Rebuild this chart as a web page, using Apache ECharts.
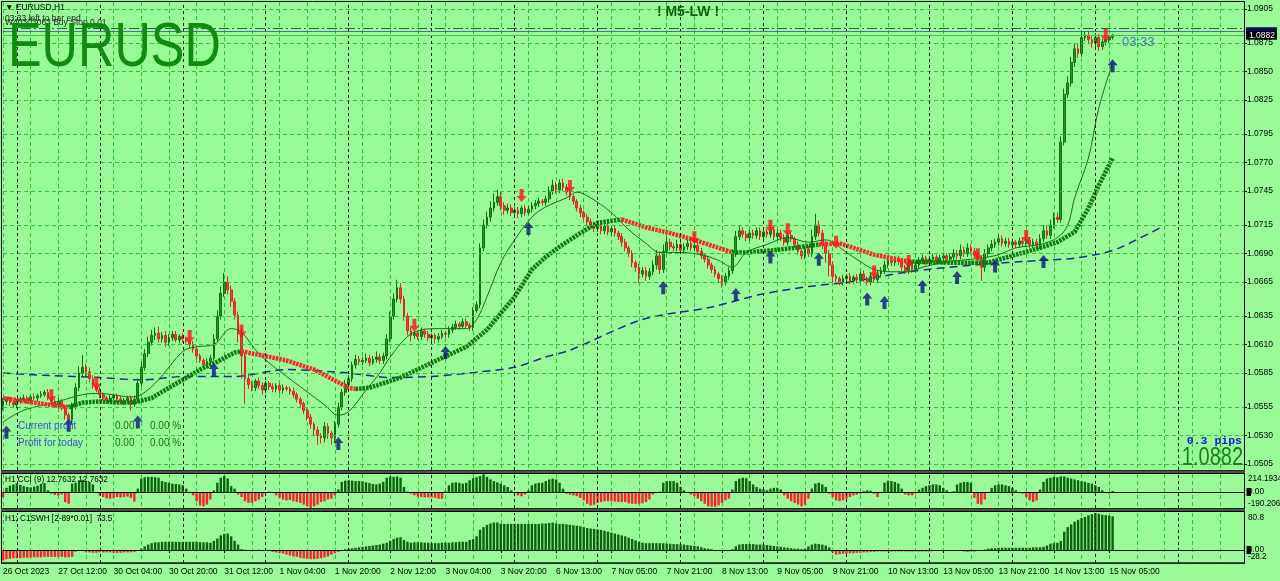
<!DOCTYPE html>
<html><head><meta charset="utf-8">
<script src="https://cdn.jsdelivr.net/npm/echarts@6/dist/echarts.min.js"></script>
<style>html,body{margin:0;padding:0;background:#98fb98;overflow:hidden}#c{width:1280px;height:581px}</style>
</head><body><div id="c"></div>
<script>
// ---------------- DATA ----------------
const timeLabels = ['26 Oct 2023','27 Oct 12:00','30 Oct 04:00','30 Oct 20:00','31 Oct 12:00','1 Nov 04:00','1 Nov 20:00','2 Nov 12:00','3 Nov 04:00','3 Nov 20:00','6 Nov 13:00','7 Nov 05:00','7 Nov 21:00','8 Nov 13:00','9 Nov 05:00','9 Nov 21:00','10 Nov 13:00','13 Nov 05:00','13 Nov 21:00','14 Nov 13:00','15 Nov 05:00'];
const priceTicks = [1.0905,1.0875,1.0850,1.0825,1.0795,1.0770,1.0745,1.0715,1.0690,1.0665,1.0635,1.0610,1.0585,1.0555,1.0530,1.0505];
const daySeparators = [4,28,52,76,100,124,148,172,196,220,244,268,292,316,340];
const firstOpen = 1.0556;
const closes = [
1.0560,1.0562,1.0559,1.0557,1.0560,1.0562,1.0563,1.0561,1.0564,1.0563,
1.0565,1.0566,1.0568,1.0563,1.0560,1.0557,1.0560,1.0555,1.0548,1.0544,
1.0556,1.0572,1.0585,1.0590,1.0586,1.0580,1.0574,1.0570,1.0566,1.0563,
1.0561,1.0563,1.0565,1.0562,1.0560,1.0561,1.0563,1.0558,1.0562,1.0576,
1.0590,1.0602,1.0612,1.0618,1.0620,1.0615,1.0618,1.0612,1.0616,1.0619,
1.0614,1.0617,1.0615,1.0613,1.0610,1.0606,1.0600,1.0596,1.0592,1.0595,
1.0598,1.0615,1.0635,1.0655,1.0665,1.0658,1.0648,1.0636,1.0620,1.0600,
1.0580,1.0575,1.0572,1.0578,1.0574,1.0570,1.0576,1.0573,1.0571,1.0574,
1.0570,1.0572,1.0571,1.0569,1.0566,1.0562,1.0558,1.0552,1.0546,1.0540,
1.0535,1.0530,1.0528,1.0538,1.0532,1.0528,1.0540,1.0555,1.0568,1.0575,
1.0580,1.0592,1.0597,1.0595,1.0596,1.0598,1.0594,1.0597,1.0599,1.0596,
1.0600,1.0615,1.0635,1.0650,1.0660,1.0650,1.0635,1.0622,1.0618,1.0620,
1.0617,1.0622,1.0619,1.0616,1.0618,1.0615,1.0617,1.0620,1.0619,1.0623,
1.0625,1.0628,1.0626,1.0630,1.0627,1.0625,1.0640,1.0645,1.0695,1.0715,
1.0722,1.0730,1.0735,1.0740,1.0732,1.0728,1.0730,1.0726,1.0728,1.0725,
1.0730,1.0726,1.0729,1.0732,1.0734,1.0736,1.0735,1.0738,1.0745,1.0750,
1.0746,1.0752,1.0748,1.0744,1.0740,1.0736,1.0730,1.0726,1.0722,1.0718,
1.0715,1.0712,1.0716,1.0710,1.0714,1.0709,1.0712,1.0708,1.0705,1.0700,
1.0695,1.0690,1.0682,1.0678,1.0672,1.0675,1.0670,1.0674,1.0680,1.0688,
1.0676,1.0692,1.0700,1.0696,1.0695,1.0698,1.0693,1.0696,1.0699,1.0695,
1.0697,1.0692,1.0688,1.0685,1.0680,1.0676,1.0672,1.0668,1.0665,1.0670,
1.0675,1.0690,1.0705,1.0710,1.0707,1.0704,1.0708,1.0706,1.0710,1.0705,
1.0709,1.0707,1.0711,1.0705,1.0708,1.0704,1.0700,1.0706,1.0703,1.0698,
1.0692,1.0688,1.0694,1.0690,1.0705,1.0715,1.0708,1.0698,1.0690,1.0680,
1.0670,1.0668,1.0665,1.0668,1.0670,1.0666,1.0669,1.0667,1.0672,1.0668,
1.0665,1.0670,1.0667,1.0672,1.0675,1.0680,1.0684,1.0682,1.0685,1.0683,
1.0678,1.0675,1.0682,1.0676,1.0680,1.0684,1.0686,1.0683,1.0685,1.0687,
1.0684,1.0686,1.0688,1.0685,1.0687,1.0690,1.0688,1.0693,1.0690,1.0695,
1.0692,1.0689,1.0685,1.0678,1.0690,1.0695,1.0698,1.0700,1.0703,1.0699,
1.0701,1.0698,1.0700,1.0698,1.0701,1.0699,1.0702,1.0698,1.0700,1.0697,
1.0703,1.0710,1.0706,1.0715,1.0722,1.0720,1.0788,1.0830,1.0840,1.0858,
1.0870,1.0866,1.0880,1.0882,1.0878,1.0875,1.0880,1.0872,1.0876,1.0878,
1.0880,1.0882];
// wick extensions in pips above max(open,close) / below min(open,close)
const wickHi = [
3,2,2,3,2,2,3,2,2,3, 2,3,2,3,2,2,3,2,2,2, 3,4,6,11,3,4,3,2,3,2, 2,3,2,2,3,2,2,2,3,4,
5,4,5,5,5,6,3,4,3,3, 3,2,3,2,2,3,2,2,2,3, 3,4,5,6,8,5,4,3,3,4, 3,4,3,2,3,3,2,2,3,2,
2,3,2,2,3,2,2,2,2,3, 2,3,2,4,3,2,3,4,3,4, 3,3,4,3,3,4,3,3,5,3, 3,4,4,5,7,4,3,3,3,2,
2,3,2,3,2,2,3,3,2,3, 3,3,2,3,3,2,3,3,4,5, 5,6,8,6,4,3,4,3,3,3, 2,3,3,3,3,3,2,3,4,5,
3,3,4,3,3,2,2,3,2,3, 3,3,2,3,2,3,2,3,2,3, 3,2,3,2,3,3,3,3,4,5, 4,6,5,3,3,4,3,3,3,3,
3,3,3,2,3,2,3,2,3,3, 3,4,5,4,3,3,3,3,3,3, 3,3,3,3,3,3,3,3,3,2, 3,2,3,3,6,10,4,3,3,3,
3,2,2,3,2,3,2,3,2,3, 2,3,2,3,3,4,3,3,3,3, 3,2,3,2,3,3,3,2,3,3, 2,3,3,2,3,4,3,5,3,4,
3,3,3,3,4,3,4,3,4,3, 3,3,3,2,3,3,3,2,3,3, 4,5,4,5,4,4,5,5,6,5, 5,4,5,3,4,3,4,3,3,3,
2,1];
const wickLo = [
4,3,3,2,3,2,2,3,2,2, 3,2,2,2,3,2,3,3,4,9, 4,3,3,3,4,3,3,2,3,2, 3,2,2,3,2,3,2,6,3,3,
3,3,3,3,4,3,3,4,3,3, 2,3,3,2,3,3,3,2,3,2, 3,2,3,3,3,4,5,4,8,20, 22,4,3,3,3,4,3,3,3,3,
3,3,2,3,3,3,4,3,3,4, 5,8,5,4,5,6,4,3,3,3, 3,3,3,3,3,2,3,2,3,3, 3,3,3,3,3,4,4,4,5,3,
3,3,3,3,3,4,3,2,3,3, 3,2,3,2,3,3,3,2,3,3, 3,4,3,3,4,4,3,3,3,4, 3,3,2,3,3,3,3,3,3,3,
3,3,3,3,3,3,3,4,3,3, 3,3,3,3,3,3,3,3,3,4, 3,3,4,4,8,3,4,3,3,4, 4,3,3,3,3,3,3,3,3,3,
3,3,3,3,3,3,3,4,5,3, 3,3,3,3,3,3,3,3,3,3, 3,3,3,3,3,3,3,3,3,3, 3,3,3,3,3,3,3,4,8,10,
6,3,3,3,3,3,3,3,3,3, 3,3,3,3,3,3,3,3,3,3, 3,3,3,3,3,3,3,3,3,3, 3,3,3,3,3,3,3,3,3,3,
3,3,6,12,4,3,3,3,3,3, 3,3,3,3,3,3,3,3,3,3, 3,3,3,3,3,3,3,3,3,3, 4,4,3,3,4,4,4,4,3,3,
3,2];
// indicator lines: [bar index, price]
const fastMA = [[0,1.0542],[5,1.0551],[9,1.0555],[16,1.0560],[23,1.0566],[28,1.0567],[37,1.0564],[40,1.0566],[45,1.0579],[52,1.0604],[56,1.0608],[61,1.0610],[66,1.0624],[69,1.0621],[74,1.0602],[82,1.0582],[86,1.0573],[93,1.0557],[97,1.0548],[100,1.0551],[105,1.0570],[109,1.0585],[112,1.0599],[117,1.0617],[121,1.0623],[126,1.0624],[134,1.0624],[137,1.0632],[140,1.0652],[144,1.0682],[148,1.0702],[153,1.0722],[157,1.0731],[163,1.0739],[166,1.0744],[170,1.0739],[176,1.0726],[181,1.0711],[186,1.0699],[190,1.0691],[195,1.0691],[202,1.0689],[207,1.0684],[211,1.0678],[215,1.0691],[221,1.0698],[227,1.0704],[233,1.0700],[238,1.0702],[244,1.0691],[248,1.0683],[252,1.0676],[257,1.0674],[262,1.0674],[266,1.0678],[274,1.0683],[283,1.0686],[288,1.0689],[293,1.0695],[300,1.0698],[305,1.0704],[308,1.0715],[310,1.0739],[314,1.0774],[317,1.0818],[321,1.0858]];
const slowMA = [[0,1.0585],[12,1.0583],[28,1.0581],[40,1.0579],[53,1.0582],[67,1.0582],[82,1.0588],[100,1.0585],[112,1.0581],[124,1.0582],[138,1.0586],[148,1.0590],[157,1.0599],[164,1.0605],[185,1.0632],[205,1.0643],[219,1.0654],[233,1.0661],[245,1.0665],[262,1.0674],[281,1.0680],[300,1.0684],[310,1.0686],[319,1.0691],[323,1.0695],[335,1.0713]];
const trendUp = [
 [[19,1.0555],[23,1.0559],[28,1.0560],[33,1.0559],[38,1.0559],[43,1.0563],[48,1.0572],[52,1.0579],[57,1.0588],[62,1.0595],[67,1.0603],[69,1.0604]],
 [[102,1.0571],[106,1.0572],[115,1.0581],[124,1.0594],[134,1.0608],[140,1.0623],[148,1.0652],[153,1.0676],[157,1.0687],[161,1.0696],[167,1.0708],[172,1.0717],[179,1.0720]],
 [[211,1.0691],[215,1.0691],[223,1.0693],[229,1.0695],[236,1.0698]],
 [[262,1.0683],[274,1.0682],[285,1.0682],[293,1.0689],[300,1.0695],[305,1.0700],[310,1.0709],[314,1.0730],[317,1.0750],[321,1.0774]]];
const trendDown = [
 [[0,1.0563],[9,1.0559],[16,1.0556],[19,1.0555]],
 [[69,1.0604],[74,1.0601],[82,1.0596],[90,1.0588],[100,1.0572],[102,1.0571]],
 [[179,1.0720],[186,1.0713],[193,1.0708],[200,1.0702],[211,1.0691]],
 [[236,1.0698],[242,1.0699],[252,1.0689],[257,1.0686],[262,1.0683]]];
const buySignals = [[1,1.0533],[19,1.0539],[39,1.0542],[61,1.0588],[97,1.0523],[128,1.0603],[152,1.0712],[191,1.0660],[212,1.0654],[222,1.0687],[236,1.0685],[250,1.0650],[255,1.0647],[266,1.0661],[276,1.0669],[287,1.0679],[301,1.0683],[321,1.0855]];
const sellSignals = [[14,1.0565],[27,1.0576],[54,1.0617],[69,1.0622],[119,1.0627],[150,1.0741],[164,1.0749],[200,1.0704],[222,1.0714],[227,1.0711],[241,1.0700],[252,1.0674],[262,1.0683],[282,1.0689],[296,1.0705],[319,1.0882]];
const levels = {pending:1.0888, ask:1.0885, bid:1.0882};
const cci = [
-60,50,75,90,105,85,70,60,55,65, 75,95,105,20,-20,-35,-40,-30,-120,-140, 100,110,140,145,135,120,90,-5,-40,-60, -75,-80,-70,-60,-65,-60,-55,-70,-115,40,
160,175,180,180,175,170,130,120,110,100, 95,90,80,40,-10,-40,-110,-160,-170,-150, -90,20,110,170,190,160,70,40,-30,-60, -110,-130,-130,-110,-90,-60,-10,5,-5,-40,
-70,-90,-100,-95,-110,-120,-130,-150,-170,-190, -170,-150,-120,-110,-90,-80,-40,30,120,135, 140,135,130,130,125,115,105,95,90,100, 120,170,185,180,185,170,60,5,-20,-40,
-55,-60,-65,-65,-65,-70,-80,-80,10,80, 110,115,110,100,110,140,165,175,190,210, 180,150,130,115,100,80,60,20,-10,-40, -50,-30,20,80,100,110,110,130,150,160,
150,110,40,-20,-30,-40,-50,-70,-100,-140, -160,-150,-130,-120,-110,-110,-110,-115,-120,-120, -120,-135,-140,-140,-140,-135,-120,-90,-30,-10, 5,110,130,130,130,110,60,20,-10,-30,
-50,-80,-110,-140,-170,-175,-175,-160,-130,-100, -80,30,130,160,170,165,130,90,60,40, 35,20,40,50,50,30,-40,-80,-110,-130, -150,-170,-150,-80,40,100,110,90,60,-20,
-60,-100,-110,-100,-80,-60,-40,-30,-20,10, 20,15,-20,-60,-10,110,135,130,120,100, 40,-30,-40,-40,-20,30,50,70,80,90, 90,80,50,20,-5,10,90,110,120,120,
110,-70,-140,-150,-90,-10,50,80,90,90, 80,70,50,20,0,-20,-60,-100,-120,-100, 30,120,160,170,180,175,185,185,170,160, 150,140,130,120,110,100,80,60,20,-10,
-20,12.7632];
const c1swh = [
-23,-20,-19,-18,-18,-18,-17,-17,-16,-16, -16,-16,-15,-15,-15,-15,-15,-15,-16,-16, -15,-4,-1,-2,-5,-5,-6,-6,-5,-5, -5,-5,-6,-6,-6,-5,-5,-5,-4,-2,
3,8,12,15,17,17,18,18,18,18, 18,18,18,18,18,18,18,17,17,17, 16,20,25,32,35,36,30,20,12,2, 1,0,-1,0,1,0,-1,-2,-4,-5,
-6,-8,-10,-12,-14,-15,-17,-18,-19,-20, -20,-19,-18,-16,-14,-10,-7,-4,-2,2, 3,4,5,6,7,8,9,10,11,12, 14,16,20,24,27,28,22,18,16,17,
17,17,16,16,15,15,15,16,16,16, 17,17,18,18,18,22,24,30,44,50, 55,58,60,60,57,57,57,57,57,57, 57,57,57,57,57,57,58,58,59,60,
58,57,57,56,55,54,53,52,50,48, 47,46,45,44,42,40,38,36,34,32, 30,27,24,21,18,16,15,15,15,15, 15,15,14,14,13,13,12,12,11,10,
9,8,6,4,3,2,-1,-2,-2,-1, -1,2,8,12,13,13,13,13,12,12, 12,11,10,9,8,7,6,5,4,3, 3,2,3,8,12,14,13,12,10,6,
-5,-10,-9,-8,-8,-7,-7,-6,-6,-5, -5,-4,-4,-3,-3,-3,-3,-3,-3,-3, -3,-3,-3,-3,-3,-3,-3,-3,-3,-2, -2,-2,-2,-2,-2,0,-1,-2,-3,-4,
-3,-3,-2,-1,1,3,4,4,5,5, 5,5,5,5,5,5,5,5,6,6, 6,7,10,14,15,16,20,40,50,56, 62,66,70,72,76,78,80.8,79,77,76,
75,73.5];
const cciRange = [-190.2063, 214.1934];
const c1Range = [-28.2, 80.8];
const cciTickLabels = ['214.1934','0.00','-190.2063'];
const c1TickLabels = ['80.8','0.00','-28.2'];

// ---------------- CHART ----------------
const FONT = "'Liberation Sans', Arial, 'DejaVu Sans', sans-serif";
const GRIDG = '#2ec42e';
const N = 360;
const cats = Array.from({length: N}, (_, i) => String(i));
const labelAt = {};
timeLabels.forEach((t, k) => { labelAt[k * 16] = t; });

const ohlc = closes.map((c, i) => {
  const o = i === 0 ? firstOpen : closes[i - 1];
  return [o, c, Math.min(o, c) - wickLo[i] / 10000, Math.max(o, c) + wickHi[i] / 10000];
});

function xAx(gi, showLabels) {
  return {
    type: 'category', gridIndex: gi, data: cats, boundaryGap: false,
    axisLine: {show: false},
    axisTick: showLabels ? {show: true, interval: (i) => labelAt[i] !== undefined, length: 3, lineStyle: {color: '#000'}} : {show: false},
    axisLabel: showLabels ? {show: true, interval: (i) => labelAt[i] !== undefined, formatter: (v, i) => labelAt[i] || '', align: 'left', fontSize: 8.5, color: '#000', margin: 4, fontFamily: FONT} : {show: false},
    splitLine: {show: true, interval: (i) => i % 8 === 0, lineStyle: {color: GRIDG, type: [4, 3], width: 1}}
  };
}
const UP = 'path://M5 0 L10 5.5 L7 5.5 L7 12 L3 12 L3 5.5 L0 5.5 Z';
const DOWN = 'path://M3 0 L7 0 L7 6.5 L10 6.5 L5 12 L0 6.5 L3 6.5 Z';
const sepItems = () => daySeparators.map(i => ({xAxis: i, lineStyle: {color: '#111', type: [3, 3], width: 1}}));

const series = [];
series.push({
  type: 'line', xAxisIndex: 0, yAxisIndex: 0, data: slowMA, showSymbol: false, z: 2, smooth: 0.3,
  lineStyle: {color: '#1a2a9a', width: 1.5, type: [8, 5]},
  markLine: {silent: true, symbol: ['none', 'none'], label: {show: false}, animation: false, precision: 6,
    data: [
      ...priceTicks.map(v => ({yAxis: v, lineStyle: {color: GRIDG, type: [4, 3], width: 1}})),
      ...sepItems(),
      {yAxis: levels.pending, lineStyle: {color: '#1f6a1f', type: [10, 3, 2, 3], width: 1}},
      {yAxis: levels.ask, lineStyle: {color: '#5a6aa8', type: 'solid', width: 1}},
      {yAxis: levels.bid, lineStyle: {color: '#48c048', type: 'solid', width: 1}}
    ]}
});
series.push({
  type: 'candlestick', xAxisIndex: 0, yAxisIndex: 0, data: ohlc, barWidth: 2.2, clip: false, z: 3,
  itemStyle: {color: '#1f9a1f', color0: '#f23a32', borderColor: '#117011', borderColor0: '#d82a24', borderWidth: 1}
});
series.push({type: 'line', xAxisIndex: 0, yAxisIndex: 0, data: fastMA, showSymbol: false, smooth: 0.35, z: 4,
  lineStyle: {color: '#1c6a1c', width: 1}});
trendUp.forEach(seg => series.push({type: 'line', xAxisIndex: 0, yAxisIndex: 0, data: seg, showSymbol: false, z: 4,
  lineStyle: {color: '#0d7a0d', width: 4.5, type: [2.5, 1]}}));
trendDown.forEach(seg => series.push({type: 'line', xAxisIndex: 0, yAxisIndex: 0, data: seg, showSymbol: false, z: 4,
  lineStyle: {color: '#ff2424', width: 4.5, type: [2.5, 1]}}));
series.push({type: 'scatter', xAxisIndex: 0, yAxisIndex: 0, data: buySignals, symbol: UP, symbolSize: [10, 13], z: 6,
  itemStyle: {color: '#0c1580'}});
series.push({type: 'scatter', xAxisIndex: 0, yAxisIndex: 0, data: sellSignals, symbol: DOWN, symbolSize: [10, 13], z: 6,
  itemStyle: {color: '#ff1414'}});
const histColor = p => (p.value >= 0 ? '#0d620d' : '#ff2222');
series.push({type: 'bar', xAxisIndex: 1, yAxisIndex: 1, data: cci, barWidth: 2.4, z: 3,
  itemStyle: {color: histColor},
  markLine: {silent: true, symbol: ['none', 'none'], label: {show: false}, animation: false, precision: 6,
    data: [...sepItems(), {yAxis: 0, lineStyle: {color: '#000', type: 'solid', width: 1}}]}});
series.push({type: 'bar', xAxisIndex: 2, yAxisIndex: 2, data: c1swh, barWidth: 2.4, z: 3,
  itemStyle: {color: histColor},
  markLine: {silent: true, symbol: ['none', 'none'], label: {show: false}, animation: false, precision: 6,
    data: [...sepItems(), {yAxis: 0, lineStyle: {color: '#000', type: 'solid', width: 1}}]}});

const option = {
  animation: false,
  backgroundColor: '#98fb98',
  textStyle: {fontFamily: FONT},
  grid: [
    {left: 3, top: 2, width: 1241, height: 468},
    {left: 3, top: 474, width: 1241, height: 34},
    {left: 3, top: 513, width: 1241, height: 50}
  ],
  xAxis: [xAx(0, false), xAx(1, false), xAx(2, true)],
  yAxis: [
    {type: 'value', gridIndex: 0, position: 'right', min: 1.049973, max: 1.091115,
      axisLine: {show: true, lineStyle: {color: '#000'}},
      axisTick: {show: true, customValues: priceTicks, length: 3, lineStyle: {color: '#000'}},
      axisLabel: {show: true, customValues: priceTicks, formatter: v => v.toFixed(4), fontSize: 8.5, color: '#000', margin: 3, fontFamily: FONT},
      splitLine: {show: false}},
    {type: 'value', gridIndex: 1, position: 'right', min: cciRange[0], max: cciRange[1],
      axisLine: {show: true, lineStyle: {color: '#000'}}, axisTick: {show: false}, axisLabel: {show: false}, splitLine: {show: false}},
    {type: 'value', gridIndex: 2, position: 'right', min: c1Range[0], max: c1Range[1],
      axisLine: {show: true, lineStyle: {color: '#000'}}, axisTick: {show: false}, axisLabel: {show: false}, splitLine: {show: false}}
  ],
  series: series
};

const chart = echarts.init(document.getElementById('c'), null, {renderer: 'canvas'});
chart.setOption(option);

function T(x, y, text, o) {
  o = o || {};
  return {type: 'text', x: x, y: y, scaleX: o.sx || 1, z: 100, silent: true,
    style: {text: text, fill: o.fill || '#000', fontSize: o.size || 8.5, fontFamily: o.family || FONT, fontWeight: o.weight || 'normal',
      align: o.align || 'left', textAlign: o.align || 'left', verticalAlign: o.va || 'middle', textVerticalAlign: o.va || 'middle'}};
}
const yA = v => chart.convertToPixel({yAxisIndex: 1}, v);
const yB = v => chart.convertToPixel({yAxisIndex: 2}, v);
const yP = v => chart.convertToPixel({yAxisIndex: 0}, v);
const g = [];
// frames
g.push({type: 'rect', z: 99, silent: true, shape: {x: 1.5, y: 1.5, width: 1243, height: 469}, style: {fill: 'none', stroke: '#000', lineWidth: 1}});
g.push({type: 'rect', z: 99, silent: true, shape: {x: 1, y: 470.5, width: 1244, height: 3}, style: {fill: '#4a524a'}});
g.push({type: 'rect', z: 99, silent: true, shape: {x: 1.5, y: 473.5, width: 1243, height: 35}, style: {fill: 'none', stroke: '#000', lineWidth: 1}});
g.push({type: 'rect', z: 99, silent: true, shape: {x: 1, y: 508.5, width: 1244, height: 3}, style: {fill: '#4a524a'}});
g.push({type: 'rect', z: 99, silent: true, shape: {x: 1.5, y: 511.5, width: 1243, height: 51.5}, style: {fill: 'none', stroke: '#000', lineWidth: 1}});
g.push({type: 'rect', z: 99, silent: true, shape: {x: 1, y: 562.5, width: 1244, height: 1.5}, style: {fill: '#2a2a2a'}});
// texts main
g.push(T(5, 8, '\u25BC EURUSD,H1', {size: 8.5}));
g.push(T(5, 19, '03:33 left to bar end', {size: 8.5, fill: '#222'}));
g.push(T(5, 23, 'W40303063 Buy Stop 0.01', {size: 8.5, fill: '#222'}));
g.push(T(8, 49, 'EURUSD', {size: 63, fill: '#128a12', sx: 0.8}));
g.push(T(688, 12, '! M5-LW !', {size: 14, weight: 'bold', fill: '#0c5e0c', align: 'center'}));
g.push(T(1122, 42, '03:33', {size: 13, fill: '#4a6fb8'}));
g.push(T(1242, 441, '0.3 pips', {size: 11.5, weight: 'bold', fill: '#1414e6', family: "'Liberation Mono', 'DejaVu Sans Mono', monospace", align: 'right'}));
g.push(T(1243, 458, '1.0882', {size: 25, fill: '#1b7e1b', sx: 0.8, align: 'right'}));
g.push(T(18, 426, 'Current profit', {size: 10, fill: '#3a50d0'}));
g.push(T(18, 443, 'Profit for today', {size: 10, fill: '#3a50d0'}));
g.push(T(115, 426, '0.00', {size: 10, fill: '#1c6e1c'}));
g.push(T(150, 426, '0.00 %', {size: 10, fill: '#1c6e1c'}));
g.push(T(115, 443, '0.00', {size: 10, fill: '#1c6e1c'}));
g.push(T(150, 443, '0.00 %', {size: 10, fill: '#1c6e1c'}));
// price boxes on the axis
g.push({type: 'rect', z: 101, silent: true, shape: {x: 1246, y: yP(levels.ask) - 4.5, width: 31, height: 8}, style: {fill: '#0c0c58'}});
g.push(T(1249, yP(levels.ask), levels.ask.toFixed(4), {size: 8.5, fill: '#fff'}));
g.push({type: 'rect', z: 102, silent: true, shape: {x: 1246, y: yP(levels.bid) - 4, width: 31, height: 8.5}, style: {fill: '#000'}});
g.push({type: 'text', x: 1249, y: yP(levels.bid), z: 103, silent: true, style: {text: levels.bid.toFixed(4), fill: '#fff', fontSize: 8.5, fontFamily: FONT, verticalAlign: 'middle', textVerticalAlign: 'middle'}});
// sub panels
g.push(T(5, 480, 'H1 CCI (9) 12.7632 12.7632', {size: 8.2, fill: '#000'}));
g.push(T(5, 519, 'H1; C1SWH [2-89*0.01]  73.5', {size: 8.2, fill: '#000'}));
g.push(T(1248, yA(cciRange[1]) + 5, cciTickLabels[0], {size: 8.2}));
g.push(T(1248, yA(0), cciTickLabels[1], {size: 8.2}));
g.push(T(1248, yA(cciRange[0]) - 4, cciTickLabels[2], {size: 8.2}));
g.push({type: 'rect', z: 104, silent: true, shape: {x: 1246.5, y: yA(0) - 4, width: 4.5, height: 8}, style: {fill: '#000'}});
g.push(T(1248, yB(c1Range[1]) + 5, c1TickLabels[0], {size: 8.2}));
g.push(T(1248, yB(0), c1TickLabels[1], {size: 8.2}));
g.push(T(1248, yB(c1Range[0]) - 6, c1TickLabels[2], {size: 8.2}));
g.push({type: 'rect', z: 104, silent: true, shape: {x: 1246.5, y: yB(0) - 4, width: 4.5, height: 8}, style: {fill: '#000'}});
chart.setOption({graphic: {elements: g}});
</script>
</body></html>
